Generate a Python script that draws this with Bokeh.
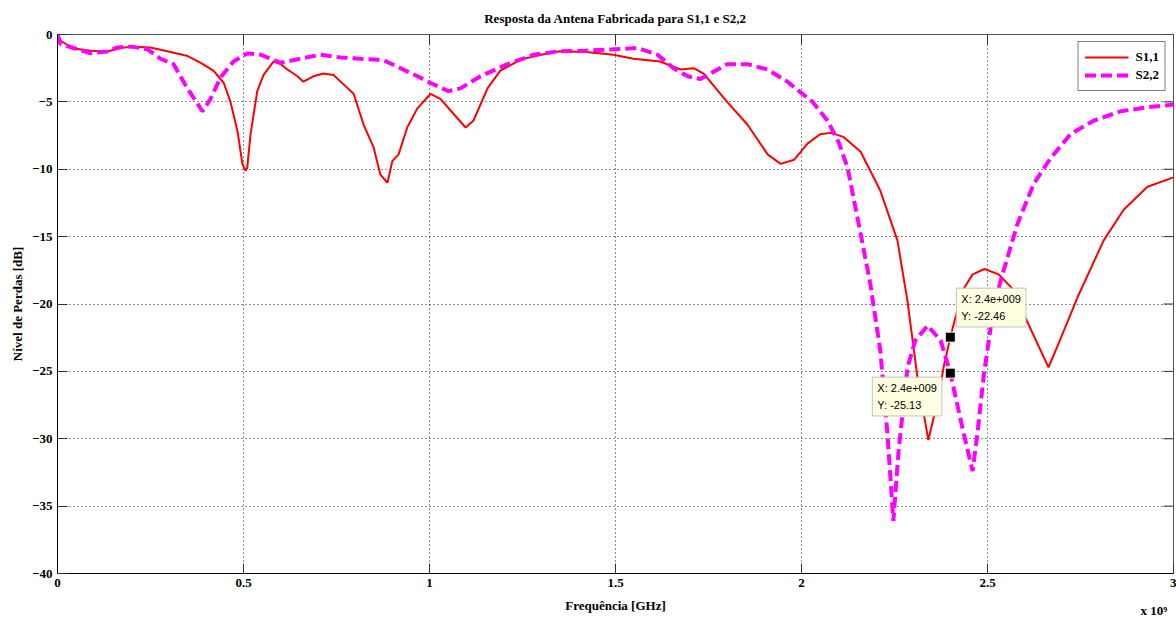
from bokeh.plotting import figure
from bokeh.models import Range1d, Legend, LegendItem, Label, FixedTicker
from bokeh.embed import file_html
from bokeh.resources import INLINE

# ---- data (frequency in GHz, level in dB) ----
s11_freq = [0.0, 0.01, 0.043, 0.09, 0.134, 0.17, 0.20, 0.25, 0.31, 0.35, 0.385, 0.42, 0.447,
            0.465, 0.484, 0.497, 0.505, 0.51, 0.519, 0.537, 0.554, 0.581, 0.60, 0.618, 0.645,
            0.661, 0.688, 0.715, 0.742, 0.769, 0.796, 0.823, 0.85, 0.868, 0.887, 0.9, 0.917,
            0.94, 0.967, 1.003, 1.03, 1.065, 1.097, 1.118, 1.156, 1.19, 1.245, 1.3, 1.35,
            1.42, 1.495, 1.548, 1.62, 1.675, 1.71, 1.737, 1.8, 1.855, 1.909, 1.944, 1.98,
            2.016, 2.05, 2.078, 2.113, 2.159, 2.212, 2.258, 2.285, 2.312, 2.341, 2.366,
            2.382, 2.4, 2.433, 2.46, 2.492, 2.53, 2.565, 2.615, 2.664, 2.696, 2.742, 2.812,
            2.866, 2.93, 3.0]
s11_db = [0.0, -0.5, -1.04, -1.2, -1.26, -1.0, -0.9, -0.96, -1.33, -1.6, -2.1, -2.7, -3.6,
          -5.0, -7.2, -9.6, -10.1, -9.9, -7.4, -4.2, -3.0, -2.0, -2.2, -2.6, -3.1,
          -3.5, -3.1, -2.9, -3.0, -3.7, -4.4, -6.7, -8.4, -10.4, -11.0, -9.4, -8.9,
          -6.9, -5.5, -4.4, -4.8, -5.9, -6.9, -6.4, -4.0, -2.7, -1.86, -1.5, -1.25,
          -1.3, -1.5, -1.8, -2.0, -2.6, -2.5, -2.9, -5.0, -6.7, -8.9, -9.6, -9.3,
          -8.1, -7.4, -7.3, -7.6, -8.7, -11.6, -15.3, -19.8, -25.5, -30.1, -27.2,
          -24.7, -22.46, -19.0, -17.8, -17.4, -17.8, -18.8, -21.8, -24.7, -22.6, -19.5, -15.3,
          -13.0, -11.3, -10.6]

s22_freq = [0.0, 0.008, 0.043, 0.089, 0.134, 0.161, 0.2, 0.242, 0.277, 0.312, 0.349, 0.39,
            0.411, 0.438, 0.473, 0.51, 0.546, 0.6, 0.653, 0.707, 0.761, 0.815, 0.876, 0.922,
            0.968, 1.003, 1.051, 1.083, 1.137, 1.21, 1.28, 1.344, 1.42, 1.495, 1.56, 1.613,
            1.656, 1.694, 1.728, 1.755, 1.8, 1.855, 1.909, 1.962, 2.016, 2.03, 2.07, 2.1,
            2.124, 2.159, 2.185, 2.212, 2.231, 2.247, 2.261, 2.285, 2.306, 2.339, 2.374,
            2.4, 2.436, 2.46, 2.473, 2.49, 2.515, 2.535, 2.58, 2.624, 2.669, 2.723, 2.785,
            2.858, 2.93, 3.0]
s22_db = [0.0, -0.7, -1.0, -1.4, -1.26, -0.96, -0.9, -1.1, -1.8, -2.2, -4.0, -5.7,
          -4.8, -3.2, -2.0, -1.4, -1.5, -2.1, -1.8, -1.5, -1.7, -1.8, -1.9, -2.5,
          -3.1, -3.6, -4.2, -4.0, -3.1, -2.2, -1.5, -1.26, -1.2, -1.1, -1.0, -1.5,
          -2.5, -3.1, -3.3, -2.9, -2.2, -2.2, -2.6, -3.5, -4.7, -5.0, -6.4, -8.0,
          -9.9, -14.8, -18.5, -23.5, -29.6, -36.1, -30.9, -24.7, -22.7, -21.6, -22.7,
          -25.13, -29.6, -32.4, -29.6, -25.3, -20.5, -18.3, -14.1, -11.1, -9.2, -7.4, -6.4,
          -5.7, -5.4, -5.2]

series_names = ["S1,1", "S2,2"]
tip_x = [2.4, 2.4]
tip_y = [-22.46, -25.13]
tip_text = ["X: 2.4e+009\nY: -22.46", "X: 2.4e+009\nY: -25.13"]
x_ticks = [0, 0.5, 1, 1.5, 2, 2.5, 3]
y_ticks = [0, -5, -10, -15, -20, -25, -30, -35, -40]
X_MIN, X_MAX = 0, 3
Y_MIN, Y_MAX = -40, 0

SERIF = "Liberation Serif"
W, H = 1176, 619
BL, BR, BT, BB = 57, 3, 33, 46
FRAME_W = W - BL - BR
FRAME_H = H - BT - BB

p = figure(width=W, height=H, output_backend="svg", toolbar_location=None,
           x_range=Range1d(X_MIN, X_MAX), y_range=Range1d(Y_MIN, Y_MAX),
           min_border_left=BL, min_border_right=BR, min_border_top=BT, min_border_bottom=BB,
           title="Resposta da Antena Fabricada para S1,1 e S2,2")
p.background_fill_color = "white"
p.border_fill_color = "white"
p.outline_line_color = "#555555"
p.outline_line_width = 1

p.title.align = "center"
p.title.text_font = SERIF
p.title.text_font_size = "13px"
p.title.text_font_style = "bold"
p.title.text_color = "black"
p.title.offset = 0
p.title.standoff = 17

for ax in (p.xaxis[0], p.yaxis[0]):
    ax.major_tick_in = 10
    ax.major_tick_out = 0
    ax.minor_tick_in = 0
    ax.minor_tick_out = 0
    ax.major_label_text_font = SERIF
    ax.major_label_text_font_size = "13px"
    ax.major_label_text_font_style = "bold"
    ax.major_label_text_color = "black"
    ax.axis_label_text_font = SERIF
    ax.axis_label_text_font_size = "13px"
    ax.axis_label_text_font_style = "bold"
    ax.axis_label_text_color = "black"
    ax.axis_line_color = "black"
    ax.major_tick_line_color = "#333333"
    ax.major_label_standoff = 5

p.xaxis[0].ticker = FixedTicker(ticks=x_ticks)
p.yaxis[0].ticker = FixedTicker(ticks=y_ticks)
p.yaxis[0].axis_label = "Nível de Perdas [dB]"
p.yaxis[0].axis_label_standoff = 4

p.xgrid.ticker = FixedTicker(ticks=x_ticks)
p.ygrid.ticker = FixedTicker(ticks=y_ticks)
for g in (p.xgrid[0], p.ygrid[0]):
    g.grid_line_color = "black"
    g.grid_line_dash = "1 3"
    g.grid_line_width = 1
    g.grid_line_alpha = 0.9

# inward tick marks on the top and right edges of the box (10 px long)
tick_dx = 10 * (X_MAX - X_MIN) / FRAME_W
tick_dy = 10 * (Y_MAX - Y_MIN) / FRAME_H
p.segment(x0=x_ticks, y0=[Y_MAX] * len(x_ticks), x1=x_ticks, y1=[Y_MAX - tick_dy] * len(x_ticks),
          line_color="#333333", line_width=1)
p.segment(x0=[X_MAX] * len(y_ticks), y0=y_ticks, x1=[X_MAX - tick_dx] * len(y_ticks), y1=y_ticks,
          line_color="#333333", line_width=1)

r1 = p.line(s11_freq, s11_db, line_color="#ff0000", line_width=2)
r2 = p.line(s22_freq, s22_db, line_color="#ff00ff", line_width=4, line_dash="11 5")

p.scatter(tip_x, tip_y, marker="square", size=10, fill_color="black",
          line_color="#ffffe1", line_width=1)

offsets = [(6, 49), (-78, -4)]
for tx, ty, tt, (xo, yo) in zip(tip_x, tip_y, tip_text, offsets):
    p.add_layout(Label(x=tx, y=ty, text=tt, x_offset=xo, y_offset=yo,
                       text_align="left", text_baseline="top",
                       text_font="Liberation Sans", text_font_size="11px",
                       text_color="black", text_line_height=1.4,
                       background_fill_color="#ffffe1", border_line_color="#c0c0c0",
                       border_line_width=1, padding=5))

legend = Legend(items=[LegendItem(label=series_names[0], renderers=[r1]),
                       LegendItem(label=series_names[1], renderers=[r2])],
                location="top_right")
legend.border_line_color = "black"
legend.border_line_width = 1
legend.background_fill_color = "white"
legend.background_fill_alpha = 1
legend.label_text_font = SERIF
legend.label_text_font_size = "13px"
legend.label_text_font_style = "bold"
legend.label_text_color = "black"
legend.glyph_width = 44
legend.glyph_height = 18
legend.label_height = 18
legend.label_standoff = 7
legend.spacing = 0
legend.padding = 6
legend.margin = 7
p.add_layout(legend)

# x-axis title and the x 10^9 multiplier, both in the bottom side panel
p.add_layout(Label(x=FRAME_W / 2, y=-1, x_units="screen", y_units="screen",
                   text="Frequência [GHz]", text_align="center", text_baseline="alphabetic",
                   text_font=SERIF, text_font_size="13px", text_font_style="bold",
                   text_color="black"), "below")
p.add_layout(Label(x=FRAME_W - 33, y=9, x_units="screen", y_units="screen",
                   text="x 10⁹", text_align="left", text_baseline="alphabetic",
                   text_font=SERIF, text_font_size="13px", text_font_style="bold",
                   text_color="black"), "below")

open("out.html", "w").write(file_html(p, INLINE))
